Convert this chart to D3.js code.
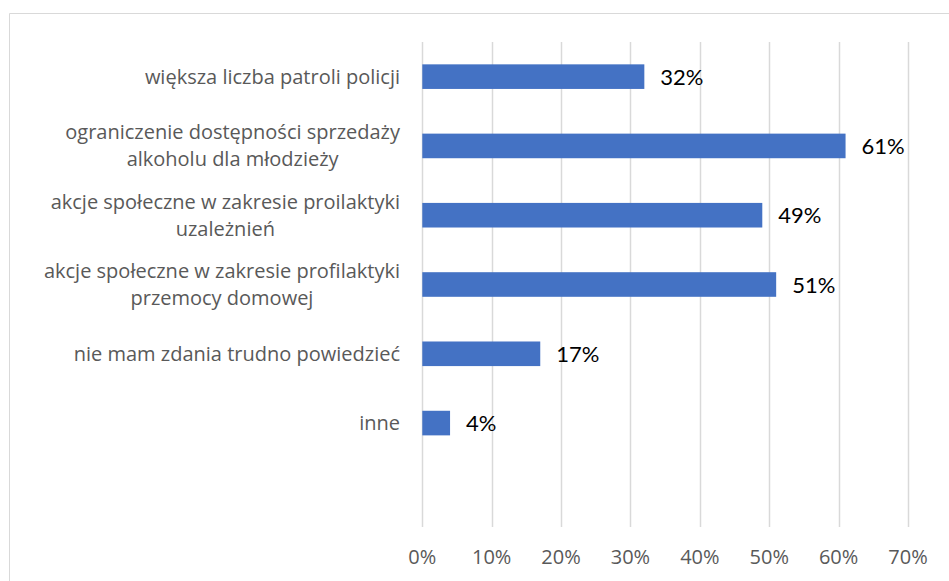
<!DOCTYPE html>
<html>
<head>
<meta charset="utf-8">
<script src="https://cdn.jsdelivr.net/npm/d3@7"></script>
<style>
  body { margin: 0; background: #fff; }
  svg { display: block; }
</style>
</head>
<body>
<svg width="949" height="581"></svg>
<script>
// dane
var categories = [
  ["większa liczba patroli policji"],
  ["ograniczenie dostępności sprzedaży", "alkoholu dla młodzieży"],
  ["akcje społeczne w zakresie proilaktyki", "uzależnień"],
  ["akcje społeczne w zakresie profilaktyki", "przemocy domowej"],
  ["nie mam zdania trudno powiedzieć"],
  ["inne"],
  [""]
];
var values = [32, 61, 49, 51, 17, 4, null];
var ticks = [0, 10, 20, 30, 40, 50, 60, 70];

var margin = { top: 42, right: 41, bottom: 54, left: 423 },
  width = 949,
  height = 581;

var svg = d3.select("svg");

// ramka wykresu
svg.append("path")
  .attr("d", "M9.5,581 V13.5 H949")
  .attr("fill", "none")
  .attr("stroke", "#d9d9d9")
  .attr("stroke-width", 1);

var x = d3.scaleLinear()
  .domain([0, 70])
  .range([margin.left - 0.7, width - margin.right]);

var y = d3.scaleBand()
  .domain(d3.range(categories.length))
  .range([margin.top, height - margin.bottom])
  .paddingInner(0.645)
  .paddingOuter(0.3225);

// siatka
svg.append("g")
  .selectAll("line")
  .data(ticks)
  .join("line")
  .attr("x1", d => Math.round(x(d)) + 0.5)
  .attr("x2", d => Math.round(x(d)) + 0.5)
  .attr("y1", margin.top)
  .attr("y2", height - margin.bottom)
  .attr("stroke", "#d9d9d9")
  .attr("stroke-width", 1.5);

// osie X - etykiety
svg.append("g")
  .selectAll("text")
  .data(ticks)
  .join("text")
  .attr("x", d => x(d))
  .attr("y", 564)
  .attr("text-anchor", "middle")
  .style("font-family", "'Open Sans', sans-serif")
  .style("font-size", "20px")
  .style("fill", "#595959")
  .text(d => d + "%");

// słupki
var bars = values.map((v, i) => ({ v: v, i: i })).filter(d => d.v != null);

svg.append("g")
  .selectAll("rect")
  .data(bars)
  .join("rect")
  .attr("x", x(0))
  .attr("y", d => y(d.i))
  .attr("width", d => x(d.v) - x(0))
  .attr("height", y.bandwidth())
  .attr("fill", "#4472c4");

// etykiety wartości
svg.append("g")
  .selectAll("text")
  .data(bars)
  .join("text")
  .attr("x", d => x(d.v) + 16)
  .attr("y", d => y(d.i) + y.bandwidth() / 2 + 8)
  .style("font-family", "Lato, 'Open Sans', sans-serif")
  .style("font-size", "22px")
  .style("fill", "#000")
  .text(d => d.v + "%");

// etykiety kategorii
var lineH = 27;
var labelRight = 400;
var cat = svg.append("g")
  .selectAll("g")
  .data(categories)
  .join("g");

cat.each(function(lines, i) {
  var g = d3.select(this);
  var cy = y(i) + y.bandwidth() / 2;
  var t = g.selectAll("text")
    .data(lines)
    .join("text")
    .attr("y", (d, k) => cy + (k - (lines.length - 1) / 2) * lineH + 7)
    .style("font-family", "'Open Sans', sans-serif")
    .style("font-size", "20px")
    .style("fill", "#595959")
    .text(d => d);
  var w = d3.max(t.nodes(), n => n.getComputedTextLength()) || 0;
  t.attr("x", labelRight - w / 2).attr("text-anchor", "middle");
});
</script>
</body>
</html>
